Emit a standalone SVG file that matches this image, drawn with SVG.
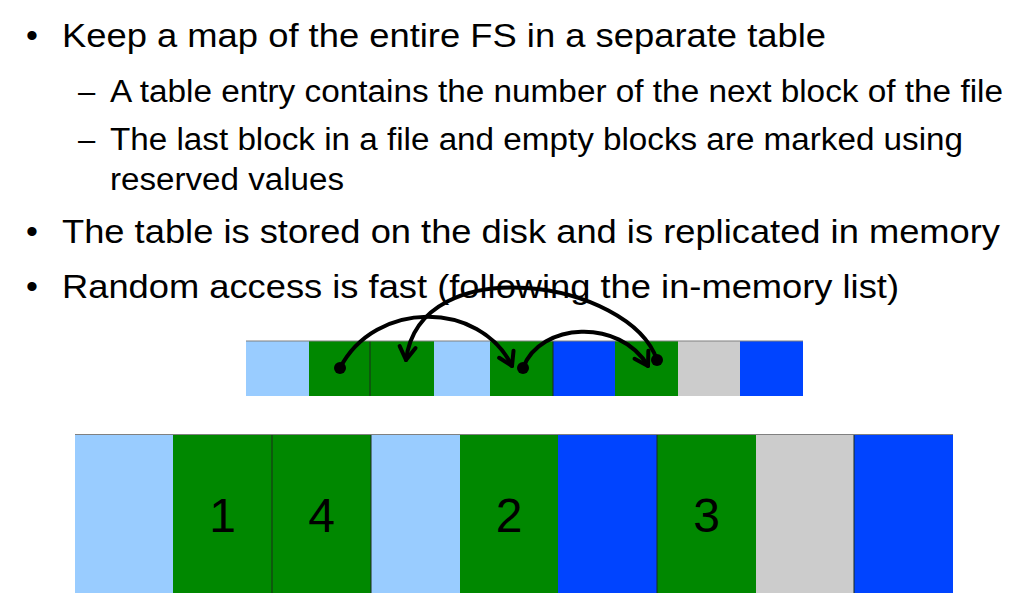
<svg xmlns="http://www.w3.org/2000/svg" width="1022" height="608" viewBox="0 0 1022 608">
<defs>
<style>
text{font-family:"Liberation Sans",Arial,sans-serif;fill:#000}
.main{font-size:34px}
.sub{font-size:31px}
.num{font-size:48px;text-anchor:middle}
.lb{fill:#99CCFF}.gr{fill:#008800}.bl{fill:#0044FF}.gy{fill:#CCCCCC}
.sep{stroke:#1a2a1a;stroke-width:1}
.top{stroke:#808080;stroke-width:1.2}
.arc{fill:none;stroke:#000;stroke-width:4;stroke-linecap:round}
.dot{fill:#000}
</style>
<marker id="ah" markerUnits="userSpaceOnUse" markerWidth="30" markerHeight="30" refX="0" refY="0" viewBox="-15 -15 30 30" orient="auto" overflow="visible">
<path d="M-13,-8 L0,0 L-13,8" fill="none" stroke="#000" stroke-width="4" stroke-linecap="round" stroke-linejoin="round"/>
</marker>
</defs>
<rect width="1022" height="608" fill="#fff"/>
<g id="text">
<text class="main" x="26" y="47">•</text>
<text class="main" x="62" y="47" textLength="764" lengthAdjust="spacingAndGlyphs">Keep a map of the entire FS in a separate table</text>
<text class="sub" x="78" y="101.5">–</text>
<text class="sub" x="110" y="101.5" textLength="893" lengthAdjust="spacingAndGlyphs">A table entry contains the number of the next block of the file</text>
<text class="sub" x="78" y="150">–</text>
<text class="sub" x="110" y="150" textLength="853" lengthAdjust="spacingAndGlyphs">The last block in a file and empty blocks are marked using</text>
<text class="sub" x="110" y="190" textLength="234" lengthAdjust="spacingAndGlyphs">reserved values</text>
<text class="main" x="26" y="243">•</text>
<text class="main" x="62" y="243" textLength="938" lengthAdjust="spacingAndGlyphs">The table is stored on the disk and is replicated in memory</text>
<text class="main" x="26" y="298">•</text>
<text class="main" x="62" y="298" textLength="837" lengthAdjust="spacingAndGlyphs">Random access is fast (following the in-memory list)</text>
</g>
<g id="fat-table">
<rect class="lb" x="246" y="341" width="63" height="55"/>
<rect class="gr" x="309" y="341" width="61" height="55"/>
<rect class="gr" x="370" y="341" width="64" height="55"/>
<rect class="lb" x="434" y="341" width="56" height="55"/>
<rect class="gr" x="490" y="341" width="63" height="55"/>
<rect class="bl" x="553" y="341" width="62" height="55"/>
<rect class="gr" x="615" y="341" width="63" height="55"/>
<rect class="gy" x="678" y="341" width="62" height="55"/>
<rect class="bl" x="740" y="341" width="63" height="55"/>
<line class="sep" x1="370" y1="341" x2="370" y2="396"/>
<line class="sep" x1="553" y1="341" x2="553" y2="396"/>
<line class="top" x1="246" y1="341" x2="803" y2="341"/>
</g>
<g id="disk">
<rect class="lb" x="75" y="434.5" width="98" height="158.5"/>
<rect class="gr" x="173" y="434.5" width="99" height="158.5"/>
<rect class="gr" x="272" y="434.5" width="99" height="158.5"/>
<rect class="lb" x="371" y="434.5" width="89" height="158.5"/>
<rect class="gr" x="460" y="434.5" width="98" height="158.5"/>
<rect class="bl" x="558" y="434.5" width="99" height="158.5"/>
<rect class="gr" x="657" y="434.5" width="99" height="158.5"/>
<rect class="gy" x="756" y="434.5" width="98" height="158.5"/>
<rect class="bl" x="854" y="434.5" width="99" height="158.5"/>
<line class="sep" x1="272" y1="434.5" x2="272" y2="593"/>
<line class="sep" x1="371" y1="434.5" x2="371" y2="593"/>
<line class="sep" x1="657" y1="434.5" x2="657" y2="593"/>
<line class="sep" x1="854" y1="434.5" x2="854" y2="593"/>
<line class="top" x1="75" y1="434.5" x2="953" y2="434.5"/>
<text class="num" x="222.5" y="532">1</text>
<text class="num" x="321.5" y="532">4</text>
<text class="num" x="509" y="532">2</text>
<text class="num" x="706.5" y="532">3</text>
</g>
<g id="connectors">
<path class="arc" d="M340,368 C375,300 480,300 512,366" marker-end="url(#ah)"/>
<path class="arc" d="M523,368 C540,322 620,318 648,366" marker-end="url(#ah)"/>
<path class="arc" d="M657,360 C630,280 420,248 406,360" marker-end="url(#ah)"/>
<circle class="dot" cx="340" cy="368" r="6"/>
<circle class="dot" cx="523" cy="368" r="6"/>
<circle class="dot" cx="657" cy="360" r="6"/>
</g>
</svg>
